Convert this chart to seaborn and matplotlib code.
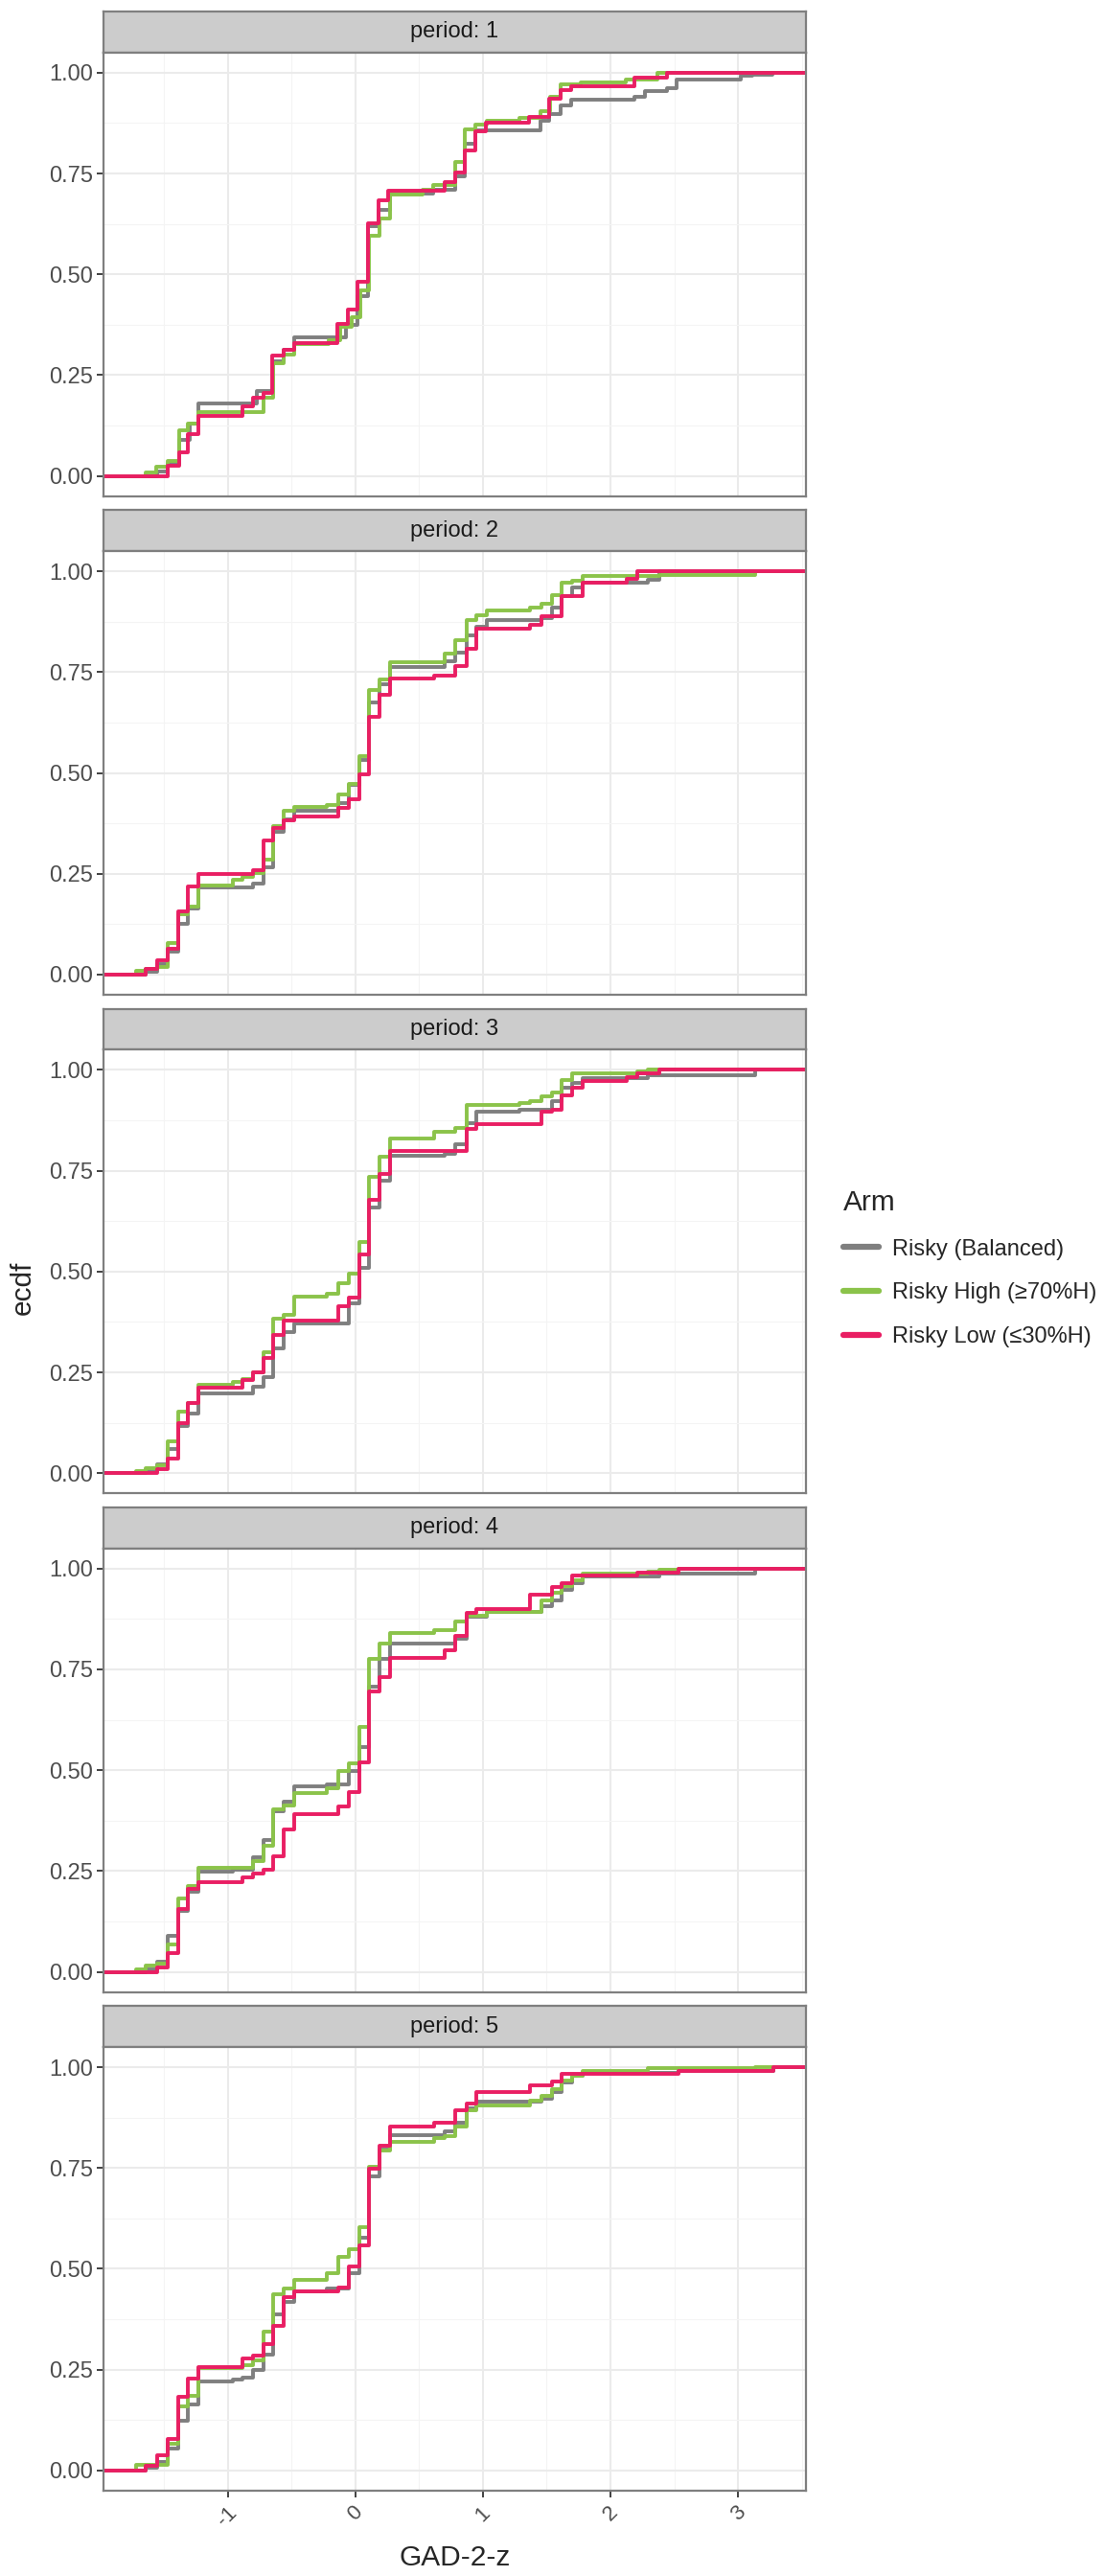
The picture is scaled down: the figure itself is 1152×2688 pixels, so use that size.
import numpy as np
import pandas as pd
import seaborn as sns
import matplotlib.pyplot as plt
from matplotlib.lines import Line2D

periods = [1, 2, 3, 4, 5]
arms = ["Risky (Balanced)", "Risky High (≥70%H)", "Risky Low (≤30%H)"]
arm_colors = ["#7F7F7F", "#8BC34A", "#E91E63"]

# ECDF steps: GAD-2-z value of each jump and the ecdf height after it
bal_x = [
    [-1.55, -1.47, -1.38, -1.30, -1.23, -0.77, -0.64, -0.56, -0.48, -0.07, 0.02, 0.10, 0.18, 0.27, 0.61,
     0.78, 0.86, 0.94, 1.45, 1.52, 1.61, 1.69, 2.19, 2.27, 2.44, 2.52, 3.02, 3.11, 3.27],
    [-1.64, -1.55, -1.47, -1.39, -1.31, -1.23, -0.80, -0.72, -0.64, -0.56, -0.48, -0.13, -0.05, 0.03, 0.11,
     0.19, 0.27, 0.70, 0.78, 0.87, 0.95, 1.03, 1.46, 1.54, 1.62, 1.70, 1.78, 2.29, 2.38],
    [-1.64, -1.55, -1.47, -1.39, -1.31, -1.23, -0.80, -0.72, -0.64, -0.56, -0.48, -0.05, 0.03, 0.11, 0.19,
     0.27, 0.70, 0.78, 0.87, 0.95, 1.29, 1.54, 1.62, 1.70, 1.78, 2.29, 3.13],
    [-1.64, -1.55, -1.47, -1.39, -1.31, -1.23, -0.96, -0.80, -0.72, -0.64, -0.56, -0.48, -0.22, -0.05, 0.03,
     0.11, 0.19, 0.27, 0.78, 0.87, 1.03, 1.46, 1.54, 1.62, 1.70, 1.78, 2.38, 3.13],
    [-1.64, -1.55, -1.47, -1.39, -1.31, -1.23, -0.96, -0.88, -0.80, -0.72, -0.64, -0.56, -0.48, -0.22, -0.05,
     0.03, 0.11, 0.19, 0.27, 0.70, 0.78, 0.87, 0.95, 1.46, 1.54, 1.62, 1.70, 1.78, 2.53, 3.28],
]
bal_y = [
    [0.01, 0.03, 0.09, 0.13, 0.18, 0.21, 0.285, 0.313, 0.343, 0.374, 0.447, 0.62, 0.661, 0.70, 0.709,
     0.744, 0.825, 0.858, 0.882, 0.898, 0.92, 0.933, 0.941, 0.955, 0.961, 0.984, 0.992, 0.996, 1.0],
    [0.007, 0.027, 0.057, 0.125, 0.165, 0.217, 0.226, 0.267, 0.353, 0.385, 0.406, 0.426, 0.471, 0.532, 0.676,
     0.719, 0.762, 0.776, 0.798, 0.841, 0.863, 0.879, 0.884, 0.910, 0.939, 0.959, 0.971, 0.980, 1.0],
    [0.006, 0.022, 0.059, 0.116, 0.147, 0.197, 0.215, 0.238, 0.309, 0.35, 0.372, 0.421, 0.508, 0.66, 0.725,
     0.787, 0.793, 0.816, 0.869, 0.896, 0.901, 0.923, 0.956, 0.969, 0.98, 0.987, 1.0],
    [0.006, 0.024, 0.09, 0.15, 0.199, 0.248, 0.252, 0.283, 0.326, 0.397, 0.423, 0.459, 0.464, 0.497, 0.557,
     0.706, 0.777, 0.814, 0.826, 0.881, 0.893, 0.906, 0.92, 0.946, 0.963, 0.98, 0.988, 1.0],
    [0.006, 0.022, 0.055, 0.124, 0.164, 0.22, 0.226, 0.23, 0.25, 0.287, 0.388, 0.417, 0.443, 0.451, 0.49,
     0.578, 0.728, 0.796, 0.832, 0.842, 0.863, 0.899, 0.914, 0.922, 0.938, 0.961, 0.979, 0.987, 0.991, 1.0],
]

high_x = [
    [-1.64, -1.56, -1.47, -1.38, -1.31, -1.23, -0.72, -0.64, -0.56, -0.48, -0.21, -0.12, -0.03, 0.04, 0.11,
     0.19, 0.27, 0.53, 0.61, 0.78, 0.86, 0.94, 1.03, 1.29, 1.45, 1.53, 1.61, 1.77, 2.12, 2.37],
    [-1.72, -1.64, -1.55, -1.47, -1.39, -1.31, -1.23, -0.96, -0.88, -0.80, -0.72, -0.64, -0.56, -0.48, -0.22,
     -0.13, -0.05, 0.03, 0.11, 0.19, 0.27, 0.70, 0.78, 0.87, 0.95, 1.03, 1.37, 1.46, 1.54, 1.62, 1.70, 1.78,
     2.38, 3.13],
    [-1.72, -1.64, -1.55, -1.47, -1.39, -1.31, -1.23, -0.96, -0.88, -0.80, -0.72, -0.64, -0.56, -0.48, -0.22,
     -0.13, -0.05, 0.03, 0.11, 0.19, 0.27, 0.62, 0.78, 0.87, 1.29, 1.37, 1.46, 1.54, 1.62, 1.70, 2.21, 2.29],
    [-1.72, -1.64, -1.55, -1.47, -1.39, -1.31, -1.23, -0.80, -0.72, -0.64, -0.56, -0.48, -0.22, -0.13, -0.05,
     0.03, 0.11, 0.19, 0.27, 0.62, 0.78, 0.87, 1.03, 1.46, 1.54, 1.62, 1.70, 1.78, 2.29, 2.38, 2.53],
    [-1.72, -1.47, -1.39, -1.31, -1.23, -0.88, -0.80, -0.72, -0.64, -0.56, -0.48, -0.22, -0.13, -0.05, 0.03,
     0.11, 0.19, 0.27, 0.62, 0.70, 0.78, 0.87, 0.95, 1.37, 1.46, 1.54, 1.62, 1.70, 1.78, 2.29, 3.13],
]
high_y = [
    [0.008, 0.024, 0.037, 0.114, 0.13, 0.159, 0.193, 0.28, 0.301, 0.327, 0.337, 0.37, 0.394, 0.46, 0.595,
     0.638, 0.699, 0.709, 0.721, 0.778, 0.859, 0.872, 0.882, 0.889, 0.905, 0.941, 0.972, 0.977, 0.984, 1.0],
    [0.009, 0.015, 0.02, 0.078, 0.149, 0.169, 0.222, 0.236, 0.243, 0.251, 0.285, 0.369, 0.406, 0.415, 0.420,
     0.446, 0.472, 0.542, 0.705, 0.731, 0.774, 0.796, 0.829, 0.880, 0.890, 0.902, 0.910, 0.919, 0.941, 0.972,
     0.976, 0.988, 0.992, 1.0],
    [0.006, 0.012, 0.02, 0.079, 0.152, 0.173, 0.22, 0.226, 0.234, 0.25, 0.299, 0.384, 0.393, 0.437, 0.445,
     0.472, 0.494, 0.573, 0.735, 0.785, 0.830, 0.847, 0.855, 0.912, 0.918, 0.923, 0.934, 0.945, 0.975, 0.991,
     0.997, 1.0],
    [0.006, 0.015, 0.02, 0.067, 0.182, 0.212, 0.258, 0.274, 0.313, 0.402, 0.413, 0.443, 0.456, 0.497, 0.516,
     0.608, 0.775, 0.814, 0.84, 0.847, 0.869, 0.883, 0.893, 0.92, 0.94, 0.956, 0.972, 0.987, 0.993, 0.998, 1.0],
    [0.014, 0.067, 0.158, 0.185, 0.254, 0.261, 0.272, 0.345, 0.437, 0.451, 0.472, 0.489, 0.529, 0.549, 0.603,
     0.752, 0.793, 0.814, 0.824, 0.828, 0.853, 0.893, 0.906, 0.918, 0.928, 0.946, 0.967, 0.979, 0.991, 0.997, 1.0],
]

low_x = [
    [-1.47, -1.38, -1.31, -1.23, -0.88, -0.80, -0.72, -0.65, -0.56, -0.48, -0.14, -0.06, 0.02, 0.10, 0.18,
     0.26, 0.70, 0.78, 0.86, 0.94, 1.02, 1.36, 1.52, 1.61, 1.69, 2.19, 2.44],
    [-1.64, -1.55, -1.47, -1.39, -1.31, -1.23, -0.80, -0.72, -0.64, -0.56, -0.48, -0.13, -0.05, 0.03, 0.11,
     0.19, 0.27, 0.62, 0.78, 0.87, 0.95, 1.37, 1.46, 1.62, 1.78, 2.13, 2.21],
    [-1.55, -1.47, -1.39, -1.31, -1.23, -0.88, -0.80, -0.72, -0.64, -0.56, -0.13, -0.05, 0.03, 0.11, 0.19,
     0.27, 0.87, 0.95, 1.46, 1.54, 1.62, 1.70, 1.78, 2.13, 2.21, 2.38],
    [-1.55, -1.47, -1.39, -1.31, -1.23, -0.88, -0.80, -0.72, -0.64, -0.56, -0.48, -0.13, -0.05, 0.03, 0.11,
     0.19, 0.27, 0.70, 0.78, 0.87, 0.95, 1.37, 1.54, 1.62, 1.70, 2.21, 2.53],
    [-1.64, -1.55, -1.47, -1.39, -1.31, -1.23, -0.88, -0.80, -0.72, -0.64, -0.56, -0.48, -0.13, -0.05, 0.03,
     0.11, 0.19, 0.27, 0.62, 0.78, 0.87, 0.95, 1.37, 1.54, 1.62, 2.53, 3.28],
]
low_y = [
    [0.026, 0.059, 0.104, 0.148, 0.172, 0.195, 0.207, 0.299, 0.312, 0.329, 0.376, 0.412, 0.481, 0.626, 0.683,
     0.707, 0.728, 0.752, 0.807, 0.854, 0.876, 0.890, 0.935, 0.958, 0.966, 0.988, 1.0],
    [0.015, 0.035, 0.065, 0.157, 0.218, 0.249, 0.259, 0.332, 0.363, 0.383, 0.393, 0.414, 0.436, 0.497, 0.640,
     0.695, 0.734, 0.742, 0.764, 0.809, 0.857, 0.868, 0.888, 0.939, 0.971, 0.982, 1.0],
    [0.01, 0.036, 0.124, 0.174, 0.212, 0.231, 0.25, 0.285, 0.342, 0.378, 0.415, 0.435, 0.543, 0.679, 0.743,
     0.800, 0.854, 0.865, 0.896, 0.901, 0.938, 0.956, 0.972, 0.983, 0.991, 1.0],
    [0.01, 0.046, 0.156, 0.205, 0.223, 0.234, 0.244, 0.254, 0.287, 0.353, 0.391, 0.409, 0.445, 0.519, 0.695,
     0.73, 0.779, 0.798, 0.832, 0.891, 0.899, 0.936, 0.954, 0.964, 0.983, 0.991, 1.0],
    [0.011, 0.038, 0.077, 0.182, 0.228, 0.257, 0.277, 0.285, 0.313, 0.358, 0.429, 0.445, 0.454, 0.505, 0.559,
     0.749, 0.805, 0.853, 0.862, 0.892, 0.910, 0.938, 0.954, 0.964, 0.983, 0.991, 1.0],
]

# x range like ggplot: data range plus 5% on each side
all_x = [v for grp in (bal_x, high_x, low_x) for lst in grp for v in lst]
span = max(all_x) - min(all_x)
xlim = (min(all_x) - 0.05 * span, max(all_x) + 0.05 * span)

rows = []
for arm, xs_all, ys_all in zip(arms, (bal_x, high_x, low_x), (bal_y, high_y, low_y)):
    for period, xs, ys in zip(periods, xs_all, ys_all):
        rows.append((period, arm, xlim[0], 0.0))  # pad to panel edge
        rows.extend((period, arm, x, y) for x, y in zip(xs, ys))
        rows.append((period, arm, xlim[1], 1.0))
df = pd.DataFrame(rows, columns=["period", "arm", "z", "ecdf"])

sns.set_theme(style="white")
plt.rcParams["font.family"] = ["Liberation Sans", "DejaVu Sans"]

fig = plt.figure(figsize=(11.52, 26.88), dpi=100)

# layout in reference display units (670 x 1568)
W, H = 670.0, 1568.0
left, width = 63 / W, 426 / W
strip_h, plot_h = 25 / H, 270 / H
border = "#7F7F7F"

for i, p in enumerate(periods):
    top = 1 - (7 + 303.5 * i) / H
    sax = fig.add_axes([left, top - strip_h, width, strip_h])
    sax.set_facecolor("#CCCCCC")
    sax.set_xticks([])
    sax.set_yticks([])
    for s in sax.spines.values():
        s.set_color(border)
        s.set_linewidth(1.6)
    sax.text(0.5, 0.5, f"period: {p}", ha="center", va="center", fontsize=17,
             color="#1A1A1A", transform=sax.transAxes)

    ax = fig.add_axes([left, top - strip_h - plot_h, width, plot_h])
    sub = df[df["period"] == p]
    sns.lineplot(data=sub, x="z", y="ecdf", hue="arm", hue_order=arms, palette=arm_colors,
                 estimator=None, sort=False, drawstyle="steps-post", linewidth=2.8,
                 legend=False, ax=ax)
    ax.set_xlim(xlim)
    ax.set_ylim(-0.05, 1.05)
    ax.set_xticks([-1, 0, 1, 2, 3])
    ax.set_xticks([-1.5, -0.5, 0.5, 1.5, 2.5, 3.5], minor=True)
    ax.set_yticks([0, 0.25, 0.5, 0.75, 1.0])
    ax.set_yticks([0.125, 0.375, 0.625, 0.875], minor=True)
    ax.set_yticklabels(["0.00", "0.25", "0.50", "0.75", "1.00"])
    ax.set_axisbelow(True)
    ax.grid(which="major", color="#EBEBEB", linewidth=1.5)
    ax.grid(which="minor", color="#F4F4F4", linewidth=0.8)
    ax.set_xlabel("")
    ax.set_ylabel("")
    for s in ax.spines.values():
        s.set_color(border)
        s.set_linewidth(1.6)
    ax.tick_params(axis="y", which="major", left=True, length=5, width=1.3, color="#333333",
                   labelsize=17, labelcolor="#4D4D4D", pad=3)
    ax.tick_params(which="minor", length=0)
    if i == len(periods) - 1:
        ax.tick_params(axis="x", which="major", bottom=True, length=5, width=1.3, color="#333333",
                       labelsize=16, labelcolor="#4D4D4D", pad=4)
        ax.set_xticklabels(["-1", "0", "1", "2", "3"], rotation=45, ha="center", va="top")
    else:
        ax.tick_params(axis="x", which="major", bottom=False, labelbottom=False)

fig.text(14 / W, 1 - 784 / H, "ecdf", rotation=90, ha="center", va="center", fontsize=21.5)
fig.text(left + width / 2, 1 - 1557 / H, "GAD-2-z", ha="center", va="center", fontsize=21.5)

handles = [Line2D([], [], color=c, linewidth=4.5) for c in arm_colors]
fig.legend(handles, arms, title="Arm", loc="center left", bbox_to_anchor=(505 / W, 1 - 772 / H),
           frameon=False, fontsize=17, title_fontsize=21.5, alignment="left",
           handlelength=1.55, handletextpad=0.6, labelspacing=1.0, borderpad=0)

fig.savefig("out.png", dpi=100, facecolor="white")
